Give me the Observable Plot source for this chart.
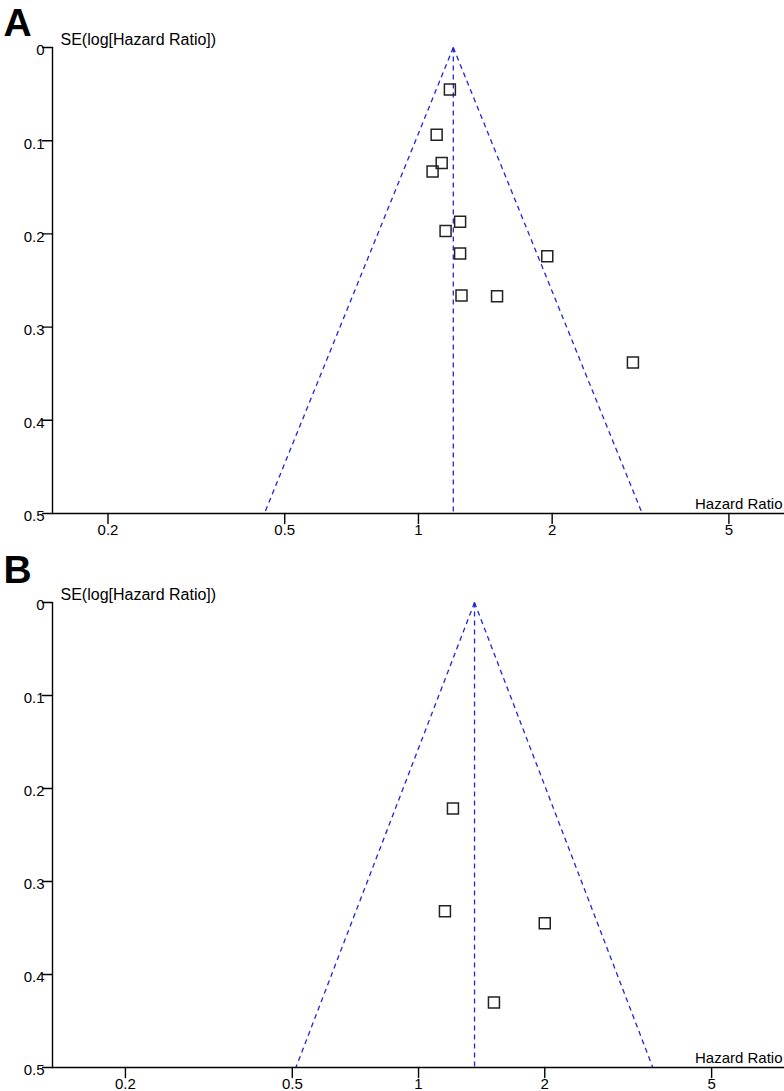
<!DOCTYPE html>
<html>
<head>
<meta charset="utf-8">
<script src="https://cdn.jsdelivr.net/npm/d3@7"></script>
<script src="https://cdn.jsdelivr.net/npm/@observablehq/plot@0.6"></script>
<style>
  html, body { margin: 0; padding: 0; background: #ffffff; }
  #chart { width: 784px; height: 1091px; }
  #chart svg { display: block; }
</style>
</head>
<body>
<div id="chart"></div>
<script>
// ---------- Data ----------
const xTicks = [0.2, 0.5, 1, 2, 5];
const yTicks = [0, 0.1, 0.2, 0.3, 0.4, 0.5];
const yTitle = "SE(log[Hazard Ratio])";
const xTitle = "Hazard Ratio";

// Panel A
const xDomainA = [0.15, 6.67];
const pooledA = 1.198;
const funnelLowA = 0.45;
const funnelHighA = 3.19;
const hrA = [1.177, 1.099, 1.128, 1.076, 1.241, 1.151, 1.241, 1.95, 1.25, 1.503, 3.04];
const seA = [0.045, 0.0935, 0.124, 0.133, 0.187, 0.197, 0.221, 0.224, 0.266, 0.267, 0.338];

// Panel B
const xDomainB = [0.134, 7.46];
const pooledB = 1.36;
const funnelLowB = 0.51;
const funnelHighB = 3.62;
const hrB = [1.208, 1.156, 2.0, 1.513];
const seB = [0.2215, 0.332, 0.345, 0.430];

const FONT = "'Liberation Sans', Arial, Helvetica, sans-serif";
const BLUE = "#2323d8";
const tickShape = {draw(c, l) { c.moveTo(0, -l / 2); c.lineTo(0, l / 2); }};

function panel({letter, xDomain, pooled, low, high, hr, se, height, marginTop, marginBottom}) {
  const pts = hr.map((h, i) => ({hr: h, se: se[i]}));
  const seMax = yTicks[yTicks.length - 1];
  const funnel = [
    {x1: pooled, y1: 0, x2: low, y2: seMax},
    {x1: pooled, y1: 0, x2: high, y2: seMax},
    {x1: pooled, y1: 0, x2: pooled, y2: seMax}
  ];
  return Plot.plot({
    width: 784,
    height,
    marginLeft: 52,
    marginRight: 0,
    marginTop,
    marginBottom,
    style: {fontFamily: FONT, fontSize: "15px", color: "#000", background: "#fff", overflow: "visible"},
    x: {type: "log", domain: xDomain, axis: null},
    y: {domain: [0, seMax], reverse: true, axis: null},
    marks: [
      // funnel (dashed)
      Plot.link(funnel, {x1: "x1", y1: "y1", x2: "x2", y2: "y2", stroke: BLUE, strokeWidth: 1.3, strokeDasharray: "5,4"}),
      // axis lines
      Plot.ruleY([seMax], {stroke: "#000", strokeWidth: 1.4}),
      Plot.ruleX([xDomain[0]], {stroke: "#000", strokeWidth: 1.4}),
      // tick marks crossing the axes
      Plot.vector(xTicks, {x: d => d, y: seMax, length: 10, rotate: 0, anchor: "middle", shape: tickShape, stroke: "#000", strokeWidth: 1.4}),
      Plot.vector(yTicks, {x: xDomain[0], y: d => d, length: 10, rotate: 90, anchor: "middle", shape: tickShape, stroke: "#000", strokeWidth: 1.4}),
      // tick labels
      Plot.text(xTicks, {x: d => d, y: seMax, text: d => String(d), dy: 11, lineAnchor: "top", textAnchor: "middle", fontSize: 15, fill: "#000"}),
      Plot.text(yTicks, {x: xDomain[0], y: d => d, text: d => String(d), dx: -8, dy: 3, lineAnchor: "middle", textAnchor: "end", fontSize: 15, fill: "#000"}),
      // study points
      Plot.dot(pts, {x: "hr", y: "se", symbol: "square", r: 6.2, stroke: "#222", strokeWidth: 1.5, fill: "none"}),
      // titles
      Plot.text([yTitle], {frameAnchor: "top-left", text: d => d, dx: 8, dy: -13.5, textAnchor: "start", lineAnchor: "top", fontSize: 16, fill: "#000"}),
      Plot.text([xTitle], {frameAnchor: "bottom-right", text: d => d, dx: -2, dy: -15, textAnchor: "end", lineAnchor: "top", fontSize: 15, fill: "#000"}),
      Plot.text([letter], {frameAnchor: "top-left", text: d => d, dx: -49, dy: letter === "A" ? -39 : -47, textAnchor: "start", lineAnchor: "top", fontSize: 39, fontWeight: "bold", fill: "#000"})
    ]
  });
}

const chart = document.getElementById("chart");
chart.append(panel({letter: "A", xDomain: xDomainA, pooled: pooledA, low: funnelLowA, high: funnelHighA, hr: hrA, se: seA, height: 545, marginTop: 47, marginBottom: 32}));
chart.append(panel({letter: "B", xDomain: xDomainB, pooled: pooledB, low: funnelLowB, high: funnelHighB, hr: hrB, se: seB, height: 546, marginTop: 57, marginBottom: 24}));
</script>
</body>
</html>
